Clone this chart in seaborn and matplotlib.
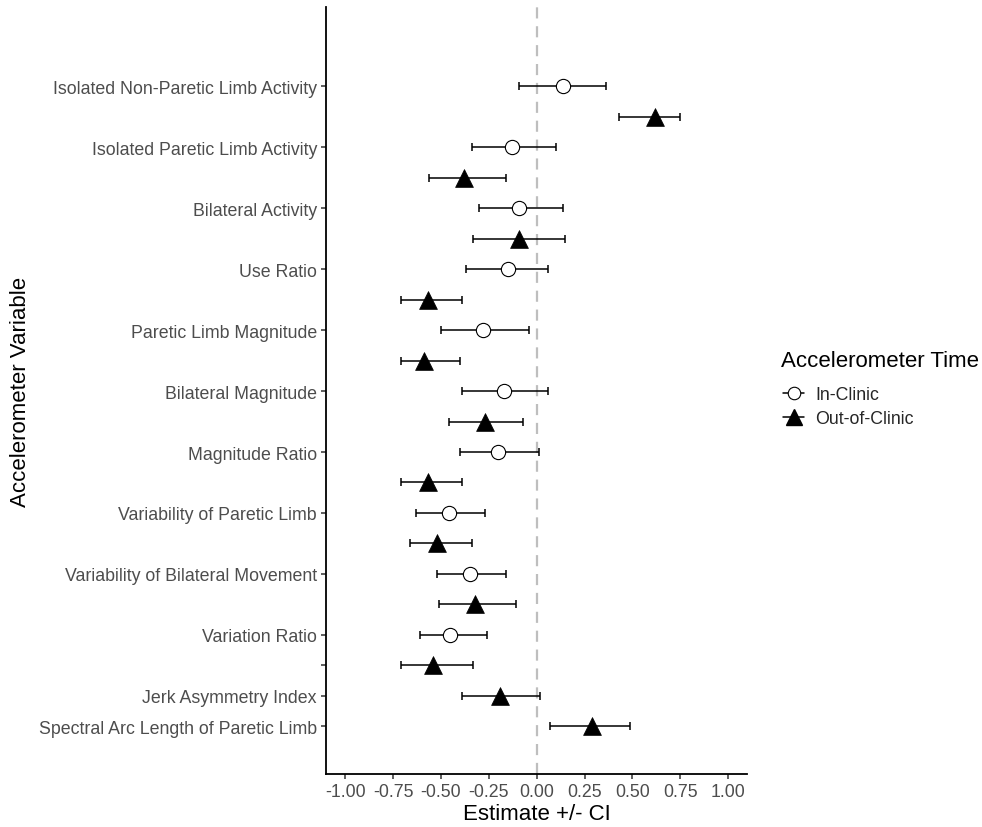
import numpy as np
import pandas as pd
import matplotlib
matplotlib.use("Agg")
import matplotlib.pyplot as plt
import seaborn as sns
from matplotlib.lines import Line2D

# =========================
# DATA
# =========================

variables = [
    "Isolated Non-Paretic Limb Activity",
    "Isolated Paretic Limb Activity",
    "Bilateral Activity",
    "Use Ratio",
    "Paretic Limb Magnitude",
    "Bilateral Magnitude",
    "Magnitude Ratio",
    "Variability of Paretic Limb",
    "Variability of Bilateral Movement",
    "Variation Ratio",
    "Jerk Asymmetry Index",
    "Spectral Arc Length of Paretic Limb",
]

# in-clinic (first 10 variables only)
in_est = [0.14, -0.13, -0.09, -0.15, -0.28, -0.17, -0.20, -0.46, -0.35, -0.45]
in_lo = [-0.09, -0.34, -0.30, -0.37, -0.50, -0.39, -0.40, -0.63, -0.52, -0.61]
in_hi = [0.36, 0.10, 0.14, 0.06, -0.04, 0.06, 0.01, -0.27, -0.16, -0.26]

# out-of-clinic (all 12 variables)
out_est = [0.62, -0.38, -0.09, -0.57, -0.59, -0.27, -0.57, -0.52, -0.32, -0.54, -0.19, 0.29]
out_lo = [0.43, -0.56, -0.33, -0.71, -0.71, -0.46, -0.71, -0.66, -0.51, -0.71, -0.39, 0.07]
out_hi = [0.75, -0.16, 0.15, -0.39, -0.40, -0.07, -0.39, -0.34, -0.11, -0.33, 0.02, 0.49]

x_ticks = [-1.0, -0.75, -0.5, -0.25, 0.0, 0.25, 0.5, 0.75, 1.0]

# =========================
# BUILD TABLE (one row per point, slot = discrete y level)
# =========================

rows = []
slot = 0
tick_pos = []
tick_lab = []
for i, name in enumerate(variables):
    if i < len(in_est):
        rows.append([name, "In-Clinic", in_est[i], in_lo[i], in_hi[i], slot])
        tick_pos.append(slot)
        tick_lab.append(name)
        slot += 1
        rows.append([name, "Out-of-Clinic", out_est[i], out_lo[i], out_hi[i], slot])
        if i == len(in_est) - 1:
            # this level has a tick but no label in the original
            tick_pos.append(slot)
            tick_lab.append("")
        slot += 1
    else:
        rows.append([name, "Out-of-Clinic", out_est[i], out_lo[i], out_hi[i], slot])
        tick_pos.append(slot)
        tick_lab.append(name)
        slot += 1

df = pd.DataFrame(rows, columns=["Variable", "Time", "Estimate", "Lower", "Upper", "Slot"])

# =========================
# PLOT
# =========================

sns.set_theme(style="ticks")
plt.rcParams["font.family"] = ["Liberation Sans", "DejaVu Sans"]

fig = plt.figure(figsize=(9.82, 8.28), dpi=100)
ax = fig.add_axes([0.332, 0.064, 0.429, 0.926])

ax.axvline(0, color="#BEBEBE", linewidth=1.6, dashes=(5, 3.5), zorder=1)

ax.errorbar(
    df["Estimate"], df["Slot"],
    xerr=[df["Estimate"] - df["Lower"], df["Upper"] - df["Estimate"]],
    fmt="none", ecolor="black", elinewidth=1.1, capsize=2.6, capthick=1.1,
    zorder=2
)

inc = df[df["Time"] == "In-Clinic"]
outc = df[df["Time"] == "Out-of-Clinic"]

sns.scatterplot(
    data=inc, x="Estimate", y="Slot", marker="o", s=105,
    facecolor="white", edgecolor="black", linewidth=0.8,
    ax=ax, zorder=3, legend=False
)
sns.scatterplot(
    data=outc, x="Estimate", y="Slot", marker="^", s=165,
    color="black", edgecolor="black", linewidth=0.5,
    ax=ax, zorder=3, legend=False
)

ax.set_xlim(-1.1, 1.1)
ax.set_ylim(slot - 1 + 1.57, -2.6)
ax.set_xticks(x_ticks)
ax.set_xticklabels([f"{v:.2f}" for v in x_ticks])
ax.set_yticks(tick_pos)
ax.set_yticklabels(tick_lab)

ax.tick_params(axis="both", labelsize=12.8, labelcolor="#4D4D4D",
               color="#333333", length=3.5, width=1.1, pad=3)
for side in ["top", "right"]:
    ax.spines[side].set_visible(False)
for side in ["left", "bottom"]:
    ax.spines[side].set_linewidth(1.3)
    ax.spines[side].set_color("black")

ax.set_xlabel("Estimate +/- CI", fontsize=16, color="black", labelpad=2)
ax.set_ylabel("Accelerometer Variable", fontsize=16, color="black")
ax.yaxis.set_label_coords(-0.70, 0.5)

# legend (title drawn separately so its gap to the keys matches)
handles = [
    Line2D([], [], color="black", linewidth=1.1, marker="o", markersize=9,
           markerfacecolor="white", markeredgecolor="black", markeredgewidth=0.8),
    Line2D([], [], color="black", linewidth=1.1, marker="^", markersize=11,
           markerfacecolor="black", markeredgecolor="black"),
]
fig.legend(
    handles, ["In-Clinic", "Out-of-Clinic"],
    loc="center left", bbox_to_anchor=(0.781, 0.508), frameon=False,
    fontsize=12.8, handlelength=1.2, handletextpad=0.6, labelspacing=0.4
)
fig.text(781 / 982, 1 - 362 / 828, "Accelerometer Time",
         fontsize=16, color="black", ha="left", va="center")

fig.savefig("out.png", dpi=100)
